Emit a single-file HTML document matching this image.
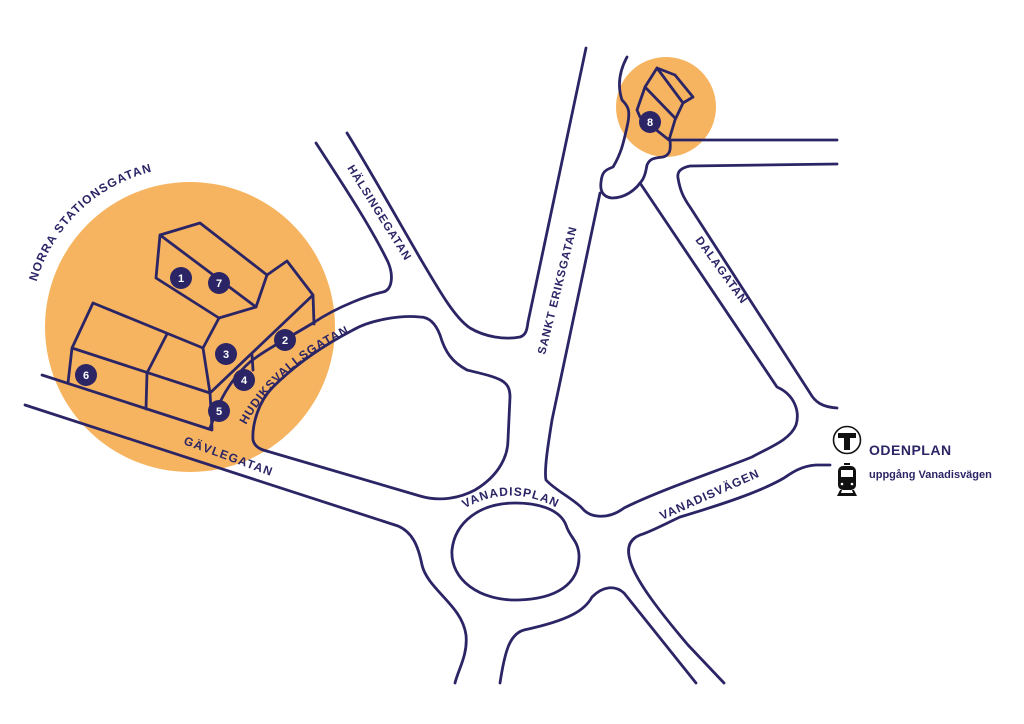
<!DOCTYPE html>
<html><head><meta charset="utf-8"><style>
html,body{margin:0;padding:0;background:#fff}
svg{display:block}
text{font-family:"Liberation Sans",sans-serif;font-weight:bold;fill:#2b2566}
</style></head><body>
<svg width="1024" height="724" viewBox="0 0 1024 724" xmlns="http://www.w3.org/2000/svg">
<circle cx="190" cy="327" r="145" fill="#f7b460"/>
<circle cx="666" cy="107" r="50" fill="#f7b460"/>
<g fill="none" stroke="#2b2566" stroke-width="2.8" stroke-linejoin="round" stroke-linecap="round">
<path d="M25 405 L398 526 C412 532 418 545 422 565 C428 590 462 605 466 635 C468 655 458 670 455 683"/>
<path d="M42 375 L212 430"/>
<path d="M420 317 C400 315 370 320 353 330 C330 342 300 360 273 387 C258 402 252 425 253 440 C255 448 262 450 270 452 L420 496 C440 502 460 498 475 490 C500 475 508 455 508 440 L510 397 C510 380 500 378 467 370 C452 362 445 352 440 335 C435 322 428 317 420 317 Z"/>
<path d="M316 143 C340 180 370 225 388 262 C394 276 392 290 383 292 C370 295 340 305 313 323 C290 337 265 350 250 362 C235 375 222 395 217 410 L210 428"/>
<path d="M347 133 C370 170 395 215 420 258 C440 292 455 318 470 328 C485 337 505 340 520 337 C526 335 527 330 528 322 L586 48"/>
<path d="M600 193 L552 420 C548 445 544 470 546 480 C555 490 572 498 582 508 C590 518 608 520 624 508 C660 490 720 470 752 457 C770 447 790 440 796 425 C800 412 795 395 777 387 L640 183"/>
<path d="M830 465 L816 465 C800 466 790 474 784 478 C760 492 720 505 680 517 C665 524 650 532 640 535 C628 540 627 550 630 560 C635 580 660 612 688 645 L724 683"/>
<path d="M696 683 L624 593 C615 585 603 586 592 597 C585 610 570 620 524 630 C510 634 505 650 500 683"/>
<path d="M515 503 C480 503 455 522 452 550 C450 580 480 601 518 600 C555 599 580 585 579 555 C578 540 570 538 566 525 C560 510 540 503 515 503 Z"/>
<path d="M627 57 C620 70 617 85 622 100 C628 106 631 110 627 127 C624 140 622 152 613 167 C605 170 602 172 601 182 C600 190 602 197 612 198 C625 198 635 190 640 183 C645 178 646 170 647 165 C650 158 655 158 663 157 C670 155 671 150 670 140 L837 140"/>
<path d="M837 164 L690 166 C680 168 677 172 678 178 C680 190 683 197 690 207 L810 393 C815 402 822 407 837 408"/>
<path d="M657 68 L675 75 L693 97 L683 103 L675 120 L669 140 M657 68 L645 87 L637 110 L640 117 L669 140 M645 87 L675 118 M657 68 L683 103"/>
<path d="M160 235 L200 223 L267 275 L256 307 L219 318 L156 278 Z M160 235 L256 307"/>
<path d="M267 275 L287 261 L313 295 L314 324 M313 295 L210 393 M219 318 L203 348 L210 393 L212 428 M252 355 L253 370"/>
<path d="M93 303 L72 348 L68 383 M93 303 L203 348 M72 348 L210 393 M167 334 L147 373 L146 409"/>
</g>
<g font-size="11" text-anchor="middle">
<circle cx="181" cy="278" r="11" fill="#2b2566"/><text x="181" y="282" style="fill:#fff">1</text>
<circle cx="219" cy="283" r="11" fill="#2b2566"/><text x="219" y="287" style="fill:#fff">7</text>
<circle cx="226" cy="354" r="11" fill="#2b2566"/><text x="226" y="358" style="fill:#fff">3</text>
<circle cx="285" cy="340" r="11" fill="#2b2566"/><text x="285" y="344" style="fill:#fff">2</text>
<circle cx="244" cy="380" r="11" fill="#2b2566"/><text x="244" y="384" style="fill:#fff">4</text>
<circle cx="219" cy="411" r="11" fill="#2b2566"/><text x="219" y="415" style="fill:#fff">5</text>
<circle cx="86" cy="375" r="11" fill="#2b2566"/><text x="86" y="379" style="fill:#fff">6</text>
<circle cx="650" cy="122" r="11" fill="#2b2566"/><text x="650" y="126" style="fill:#fff">8</text>
</g>
<defs>
<path id="norra" d="M35.5 285.6 A160 160 0 0 1 204 167.6"/>
<path id="hud" d="M246 425 Q280 363 356 330"/>
<path id="vpl" d="M462 510 Q515 478 572 517"/>
</defs>
<text font-size="12" letter-spacing="1.1"><textPath href="#norra" startOffset="4">NORRA STATIONSGATAN</textPath></text>
<text font-size="12" letter-spacing="1.0"><textPath href="#hud">HUDIKSVALLSGATAN</textPath></text>
<text font-size="12" letter-spacing="1.0"><textPath href="#vpl" startOffset="3">VANADISPLAN</textPath></text>
<text font-size="11.5" letter-spacing="0.9" transform="translate(347,168) rotate(58)">HÄLSINGEGATAN</text>
<text font-size="12" letter-spacing="1.2" transform="translate(183,444) rotate(20)">GÄVLEGATAN</text>
<text font-size="11.5" letter-spacing="0.9" transform="translate(545,355) rotate(-76)">SANKT ERIKSGATAN</text>
<text font-size="11.5" letter-spacing="1.0" transform="translate(695,240) rotate(54)">DALAGATAN</text>
<text font-size="12" letter-spacing="1.0" transform="translate(662,520) rotate(-24)">VANADISVÄGEN</text>
<circle cx="847" cy="440" r="13.5" fill="#fff" stroke="#111" stroke-width="1.6"/>
<path d="M838 433 H856 V438 H850 V450 H844 V438 H838 Z" fill="#111"/>
<text x="869" y="455" font-size="14" letter-spacing="0.5">ODENPLAN</text>
<text x="869" y="478" font-size="11">uppgång Vanadisvägen</text>
<g fill="#111">
<rect x="844" y="463" width="6" height="2"/>
<rect x="838" y="466" width="18" height="24" rx="5"/>
<rect x="841" y="470" width="12" height="7" fill="#fff"/>
<circle cx="842" cy="484" r="1.3" fill="#fff"/><circle cx="852" cy="484" r="1.3" fill="#fff"/>
<path d="M840 490 L837 496 H857 L854 490 H852 L853 493 H841 L842 490 Z"/>
</g>
</svg>
</body></html>
